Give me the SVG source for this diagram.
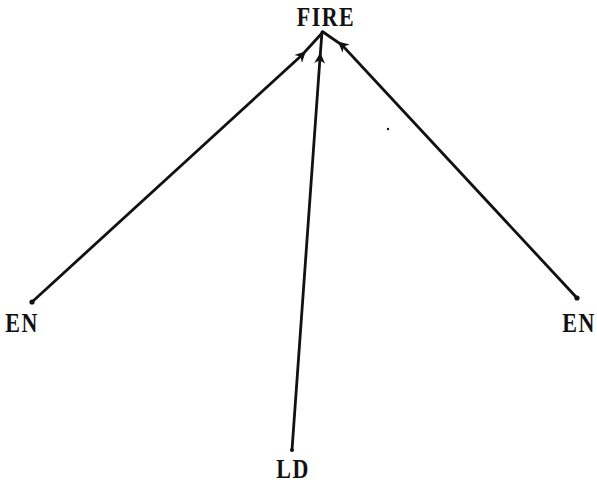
<svg xmlns="http://www.w3.org/2000/svg" width="597" height="482" viewBox="0 0 597 482">
<style>
text{font-family:"Liberation Serif","DejaVu Serif",serif;font-size:22px;font-weight:bold;fill:#111;letter-spacing:1.5px;text-anchor:middle}
.e{stroke:#111;stroke-width:2.8;fill:none;stroke-linecap:round}
</style>
<defs>
<marker id="a" viewBox="0 0 12 12" refX="6" refY="6" markerWidth="13" markerHeight="13" markerUnits="userSpaceOnUse" orient="auto">
<path d="M1,1 L11,6 L1,11 L4,6 Z" fill="#111"/>
</marker>
</defs>
<rect width="597" height="482" fill="#fff"/>
<g id="connectors">
<path class="e" d="M32,302 L302,55 L323,32" marker-mid="url(#a)"/>
<path class="e" d="M292,450 L320,58 L322,32" marker-mid="url(#a)"/>
<path class="e" d="M577,298 L342,45 L323,32" marker-mid="url(#a)"/>
<circle cx="32" cy="302" r="2.6" fill="#111"/>
<circle cx="577" cy="298" r="2.6" fill="#111"/>
<circle cx="292" cy="450" r="2" fill="#111"/>
<circle cx="388" cy="129" r="1.2" fill="#111"/>
</g>
<g id="fire"><text transform="translate(326,26) scale(1,1.2)">FIRE</text></g>
<g id="en-left"><text transform="translate(22,332) scale(1,1.2)">EN</text></g>
<g id="en-right"><text transform="translate(579,332) scale(1,1.2)">EN</text></g>
<g id="ld"><text transform="translate(293,478) scale(1,1.2)">LD</text></g>
</svg>
